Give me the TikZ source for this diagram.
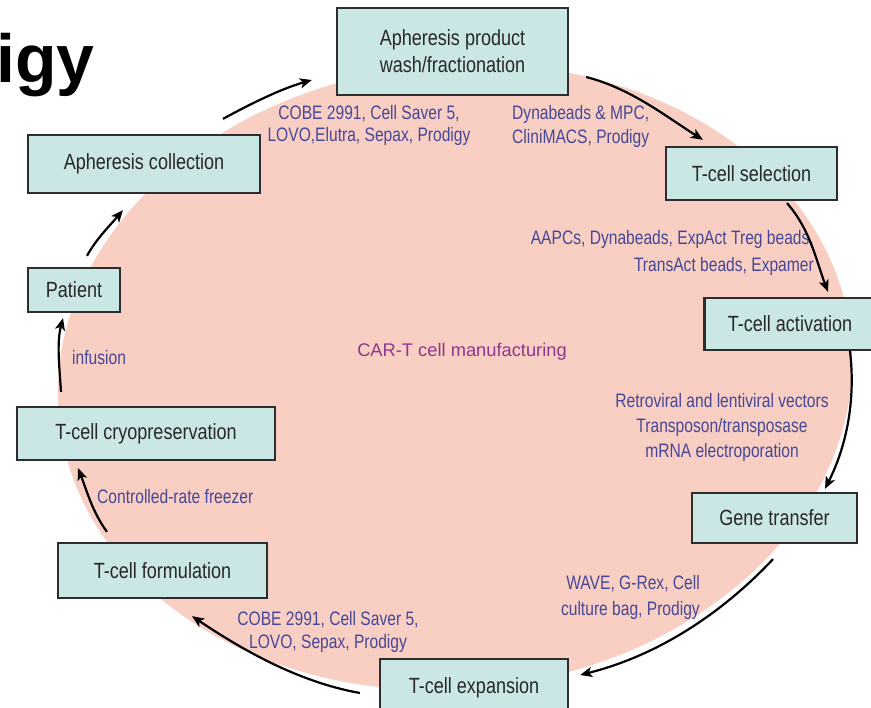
\documentclass[tikz,border=0pt]{standalone}
\usepackage{fontspec}
\setmainfont{Liberation Sans}[FakeStretch=0.82]
\newfontfamily\plainsans{Liberation Sans}
\newfontfamily\labfont{Liberation Sans}[FakeStretch=0.80]
\usetikzlibrary{arrows.meta}
\definecolor{pinkfill}{RGB}{249,206,195}
\definecolor{boxfill}{RGB}{203,231,229}
\definecolor{boxline}{RGB}{45,45,45}
\definecolor{boxtext}{RGB}{40,40,40}
\definecolor{labblue}{RGB}{70,72,150}
\definecolor{cartcol}{RGB}{140,55,140}
\begin{document}
\begin{tikzpicture}[x=1pt,y=-1pt,
  box/.style={draw=boxline, line width=2.3pt, fill=boxfill, text=boxtext, inner sep=0pt,
    font=\fontsize{22}{27}\selectfont, align=center},
  lab/.style={text=labblue, inner sep=0pt, font=\labfont\fontsize{19.5}{24}\selectfont},
  arr/.style={line width=2.2pt, draw=black, -{Stealth[length=12pt,width=10pt,inset=3pt]}},
]
\useasboundingbox (0,0) rectangle (871,708);
\fill[white] (0,0) rectangle (871,708);
\fill[pinkfill, rotate around={6:(455,377)}] (455,377) ellipse [x radius=398pt, y radius=312pt];

% title fragment
\node[anchor=base west, inner sep=0pt, font=\plainsans\bfseries\fontsize{68}{74}\selectfont] (igy) at (-4,83) {igy};

% boxes
\node[box, minimum width=231pt, minimum height=87pt] (prod) at (452.5,51.5) {Apheresis product\\wash/fractionation};
\node[box, minimum width=232pt, minimum height=58pt] (acol) at (144,164) {Apheresis collection};
\node[box, minimum width=92pt, minimum height=44pt] (pat) at (74,290) {Patient};
\node[box, minimum width=258pt, minimum height=53pt] (cryo) at (146,433.5) {T-cell cryopreservation};
\node[box, minimum width=209pt, minimum height=55pt] (form) at (162.5,570.5) {T-cell formulation};
\node[box, minimum width=188pt, minimum height=58pt] (exp) at (474,688) {T-cell expansion};
\node[box, minimum width=165pt, minimum height=50pt] (gene) at (774.5,518) {Gene transfer};
\node[box, minimum width=171pt, minimum height=52pt] (act) at (790,324) {T-cell activation};
\node[box, minimum width=171pt, minimum height=53pt] (sel) at (751.5,173.5) {T-cell selection};

% labels
\node[lab, align=center, font=\labfont\fontsize{19.5}{22}\selectfont] (l1) at (369,125) {COBE 2991, Cell Saver 5,\\LOVO,Elutra, Sepax, Prodigy};
\node[lab, align=left, anchor=west] (l2) at (512,126) {Dynabeads \& MPC,\\CliniMACS, Prodigy};
\node[lab, align=right, anchor=east, font=\labfont\fontsize{19.5}{27}\selectfont] (l3) at (814,253) {AAPCs, Dynabeads, ExpAct Treg beads,\\TransAct beads, Expamer};
\node[inner sep=0pt, text=cartcol, font=\plainsans\fontsize{18.3}{22}\selectfont] (cart) at (462,352) {CAR-T cell manufacturing};
\node[lab, align=center, font=\labfont\fontsize{19.5}{25}\selectfont] (l4) at (722,427) {Retroviral and lentiviral vectors\\Transposon/transposase\\mRNA electroporation};
\node[lab, align=right, anchor=east, font=\labfont\fontsize{19.5}{26}\selectfont] (l5) at (700,597) {WAVE, G-Rex, Cell\\culture bag, Prodigy};
\node[lab, align=center, font=\labfont\fontsize{19.5}{23}\selectfont] (l6) at (328,632) {COBE 2991, Cell Saver 5,\\LOVO, Sepax, Prodigy};
\node[lab, anchor=west] (l7) at (97,497) {Controlled-rate freezer};
\node[lab, anchor=west] (l8) at (72,358) {infusion};

% connectors
\draw[arr] ([shift={(13,-11)}]pat.north) .. controls +(9.3,-17) and +(-13.1,15.4) .. ([shift={(-21,16)}]acol.south);
\draw[arr] ([shift={(79,-15)}]acol.north) .. controls +(27.7,-15) and +(-31.7,9.1) .. ([shift={(-24,28.5)}]prod.west);
\draw[arr] ([shift={(17,25.5)}]prod.east) .. controls +(45.3,11.7) and +(-37,-23.3) .. ([shift={(-48.5,-6)}]sel.north);
\draw[arr] ([shift={(35.5,2)}]sel.south) .. controls +(23.4,26.6) and +(-11.7,-30.8) .. ([shift={(38,-5)}]act.north);
\draw[arr] ([shift={(60,0)}]act.south) .. controls +(5.6,47.5) and +(22.3,-44.5) .. ([shift={(50.5,-3)}]gene.north);
\draw[arr] ([shift={(-1.5,15)}]gene.south) .. controls +(-49.4,52.5) and +(79.8,-20) .. ([shift={(11,-13)}]exp.east);
\draw[arr] ([shift={(-19,5)}]exp.west) .. controls +(-62.7,-11.2) and +(48.7,32.5) .. ([shift={(29.5,17)}]form.south);
\draw[arr] ([shift={(-55.5,-10)}]form.north) .. controls +(-14.8,-20.1) and +(8.7,22.1) .. ([shift={(-68,7)}]cryo.south);
\draw[arr] ([shift={(-85,-14)}]cryo.north) .. controls +(-1.6,-25.3) and +(-6.4,24.8) .. ([shift={(-11,5)}]pat.south);
\end{tikzpicture}
\end{document}
